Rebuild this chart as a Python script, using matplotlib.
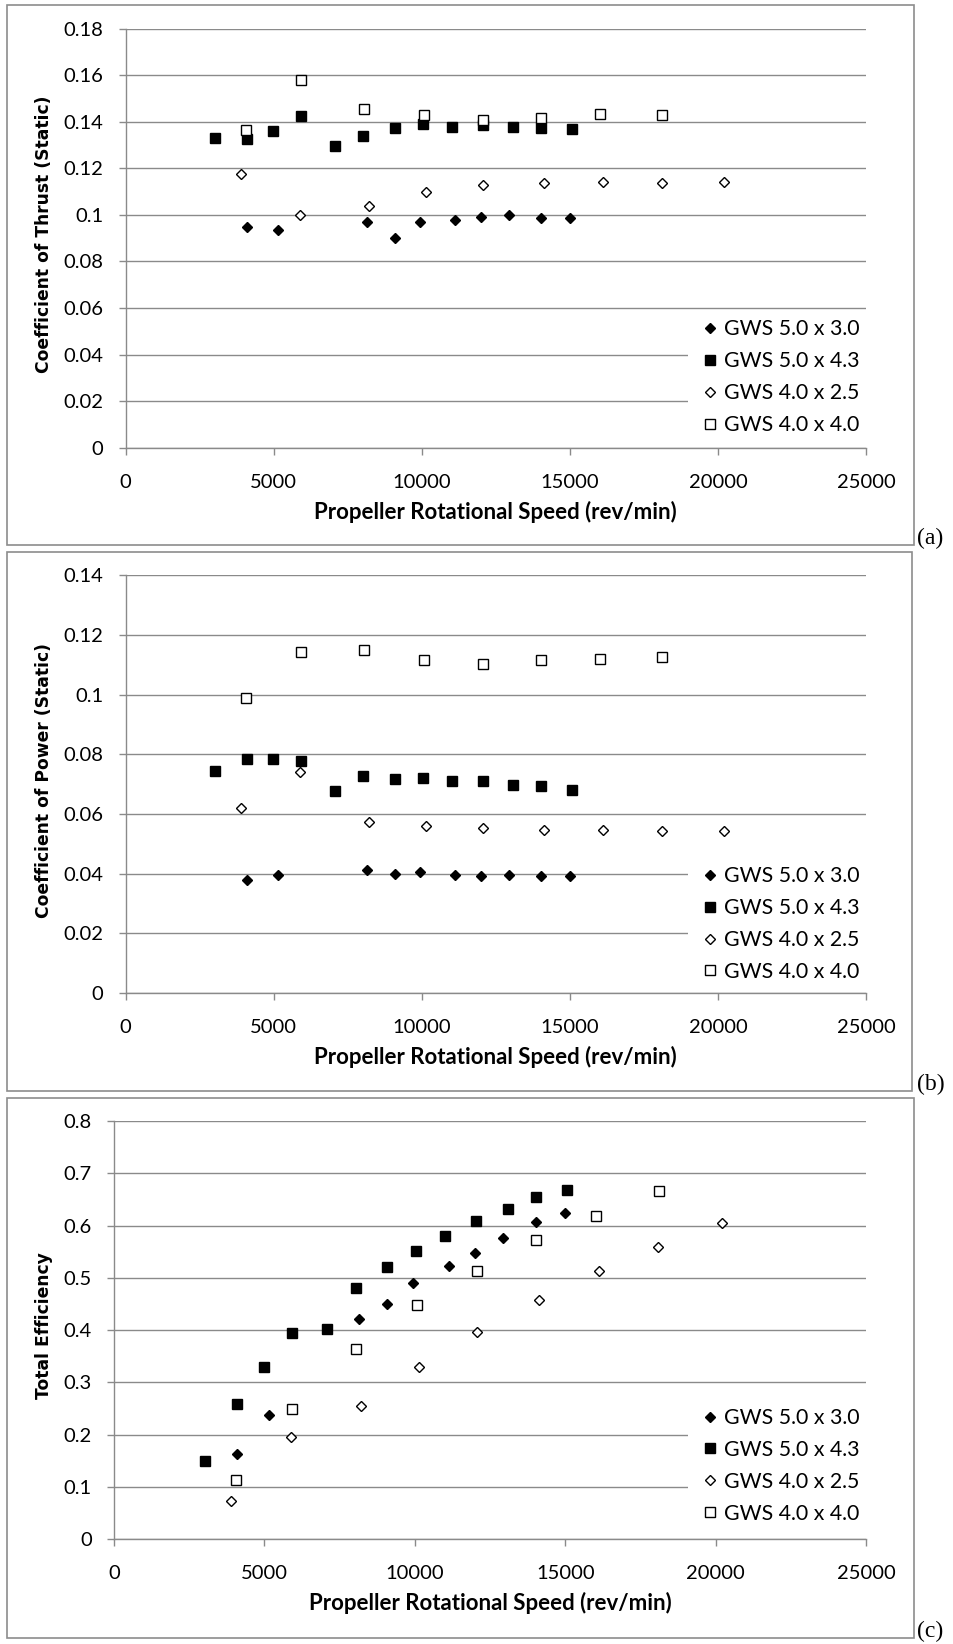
import numpy as np
import matplotlib
matplotlib.use('Agg')
import matplotlib.pyplot as plt
from matplotlib.patches import Rectangle

# propeller labels and rpm for each test series
labels = ['GWS 5.0 x 3.0', 'GWS 5.0 x 4.3', 'GWS 4.0 x 2.5', 'GWS 4.0 x 4.0']
rpm_503 = [4100, 5150, 8150, 9080, 9940, 11130, 12010, 12930, 14030, 15000]
rpm_543 = [3010, 4080, 4980, 5930, 7080, 8030, 9080, 10050, 11020, 12050, 13090, 14040, 15060]
rpm_425 = [3900, 5890, 8210, 10130, 12060, 14120, 16120, 18100, 20210]
rpm_440 = [4060, 5920, 8040, 10080, 12060, 14040, 16020, 18120]

# (a) thrust coefficient
ct_503 = [0.0947, 0.0933, 0.0971, 0.0900, 0.0971, 0.0976, 0.0990, 0.1001, 0.0986, 0.0986]
ct_543 = [0.1330, 0.1326, 0.1361, 0.1424, 0.1296, 0.1337, 0.1373, 0.1389, 0.1379, 0.1386, 0.1379, 0.1373, 0.1367]
ct_425 = [0.1176, 0.1001, 0.1040, 0.1097, 0.1130, 0.1139, 0.1142, 0.1137, 0.1140]
ct_440 = [0.1366, 0.1579, 0.1456, 0.1429, 0.1409, 0.1417, 0.1434, 0.1431]

# (b) power coefficient
cp_503 = [0.0379, 0.0396, 0.0412, 0.0400, 0.0404, 0.0396, 0.0392, 0.0396, 0.0392, 0.0392]
cp_543 = [0.0744, 0.0783, 0.0783, 0.0779, 0.0676, 0.0727, 0.0716, 0.0721, 0.0712, 0.0709, 0.0698, 0.0695, 0.0679]
cp_425 = [0.0621, 0.0742, 0.0572, 0.0560, 0.0552, 0.0546, 0.0547, 0.0542, 0.0544]
cp_440 = [0.0988, 0.1144, 0.1151, 0.1115, 0.1104, 0.1116, 0.1118, 0.1127]

# (c) total efficiency
eff_503 = [0.163, 0.237, 0.421, 0.450, 0.490, 0.523, 0.547, 0.576, 0.606, 0.624]
eff_543 = [0.149, 0.259, 0.330, 0.394, 0.402, 0.480, 0.521, 0.551, 0.580, 0.609, 0.631, 0.655, 0.668]
eff_425 = [0.072, 0.196, 0.255, 0.329, 0.397, 0.458, 0.512, 0.559, 0.604]
eff_440 = [0.112, 0.249, 0.364, 0.447, 0.512, 0.572, 0.618, 0.666]

W, H = 954, 1644
GRID = '#8a8a8a'
TICKFONT = 'Lato'

fig = plt.figure(figsize=(W / 100, H / 100), dpi=100)


def fx(px):
    return px / W


def fy(py):
    return 1 - py / H


def fmt2(v):
    if v == 0:
        return '0'
    if abs(v - 0.1) < 1e-9:
        return '0.1'
    return '%.2f' % v


def fmt1(v):
    return '0' if v == 0 else '%.1f' % v


panels = [
    dict(rect=(125.7, 28.7, 866, 447.6), box=(7, 5, 914, 545), tag='(a)', tagy=544,
         ymax=0.18, ystep=0.02, fmt=fmt2, ylabel='Coefficient of Thrust (Static)',
         data=[ct_503, ct_543, ct_425, ct_440], leg_y=0.168),
    dict(rect=(125.7, 575.3, 866, 993), box=(7, 552, 912, 1091), tag='(b)', tagy=1090,
         ymax=0.14, ystep=0.02, fmt=fmt2, ylabel='Coefficient of Power (Static)',
         data=[cp_503, cp_543, cp_425, cp_440], leg_y=0.165),
    dict(rect=(114, 1121, 866, 1539), box=(7, 1098, 914, 1638), tag='(c)', tagy=1637,
         ymax=0.8, ystep=0.1, fmt=fmt1, ylabel='Total Efficiency',
         data=[eff_503, eff_543, eff_425, eff_440], leg_y=0.175),
]

rpms = [rpm_503, rpm_543, rpm_425, rpm_440]
styles = [
    dict(marker='D', ms=5.3, mfc='black', mec='black'),
    dict(marker='s', ms=7.2, mfc='black', mec='black'),
    dict(marker='D', ms=5.3, mfc='white', mec='black'),
    dict(marker='s', ms=7.2, mfc='white', mec='black'),
]

for p in panels:
    x0, y0, x1, y1 = p['rect']
    ax = fig.add_axes([fx(x0), fy(y1), fx(x1) - fx(x0), fy(y0) - fy(y1)])
    for k in range(4):
        ax.plot(rpms[k], p['data'][k], linestyle='none', mew=1.0, label=labels[k], **styles[k])
    ax.set_xlim(0, 25000)
    ax.set_ylim(0, p['ymax'])
    xt = np.arange(0, 25001, 5000)
    ax.set_xticks(xt)
    ax.set_xticklabels([str(v) for v in xt], fontsize=14.5, family=TICKFONT)
    yt = np.round(np.arange(0, p['ymax'] + 1e-9, p['ystep']), 3)
    ax.set_yticks(yt)
    ax.set_yticklabels([p['fmt'](v) for v in yt], fontsize=14.5, family=TICKFONT)
    ax.grid(axis='y', color=GRID, linewidth=1.0)
    ax.set_axisbelow(True)
    for s in ['top', 'right']:
        ax.spines[s].set_visible(False)
    for s in ['left', 'bottom']:
        ax.spines[s].set_color(GRID)
        ax.spines[s].set_linewidth(1.0)
    ax.tick_params(axis='both', direction='out', length=5, width=1.0, color=GRID)
    ax.tick_params(axis='x', pad=14)
    ax.tick_params(axis='y', pad=11)
    # white legend area hides the gridlines behind it, as in the original
    lx = (688 - x0) / (x1 - x0)
    ax.add_patch(Rectangle((lx, 0.02), 1.0 - lx, 0.30, transform=ax.transAxes,
                           facecolor='white', edgecolor='none', zorder=1))
    hx = (703.6 - x0) / (x1 - x0)
    ax.legend(loc='center left', bbox_to_anchor=(hx, p['leg_y']), frameon=False,
              prop={'family': TICKFONT, 'size': 15.3}, markerscale=1.0, borderaxespad=0,
              handlelength=0.6, handletextpad=0.35, labelspacing=0.56, borderpad=0)
    # captions
    fig.text(fx((x0 + x1) / 2), fy(y1 + 64), 'Propeller Rotational Speed (rev/min)',
             ha='center', va='center', fontsize=16, fontweight='bold', family=TICKFONT)
    fig.text(fx(44), fy((y0 + y1) / 2 - 4), p['ylabel'], rotation=90, ha='center', va='center',
             fontsize=12.3, fontweight='bold', family='DejaVu Sans')
    bx0, by0, bx1, by1 = p['box']
    fig.patches.append(Rectangle((fx(bx0), fy(by1)), fx(bx1) - fx(bx0), fy(by0) - fy(by1),
                                 transform=fig.transFigure, fill=False, edgecolor='#8c8c8c', linewidth=1.2))
    fig.text(fx(917), fy(p['tagy']), p['tag'], ha='left', va='baseline', fontsize=17,
             family='Liberation Serif')

fig.savefig('out.png', dpi=100)
